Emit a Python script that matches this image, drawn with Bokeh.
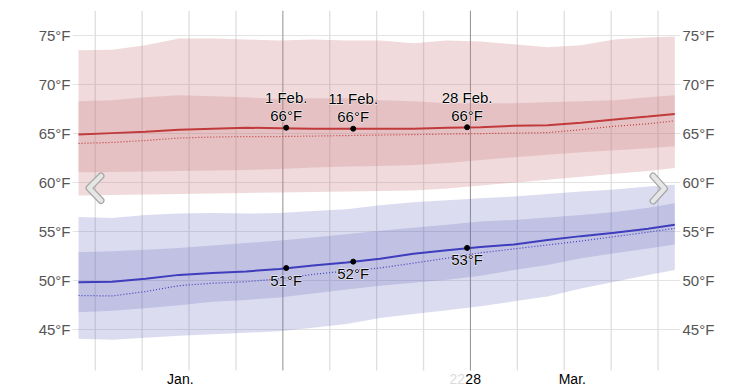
from bokeh.plotting import figure
from bokeh.models import Range1d, LinearAxis, FixedTicker
from bokeh.core.properties import value
from bokeh.embed import file_html
from bokeh.resources import INLINE

# ---- data (day index: 0 = 1 Jan) ----
days = [0, 5, 10, 15, 20, 25, 30, 35, 40, 45, 50, 55, 60, 65, 70, 75, 80, 85, 89]

hi_p90 = [73.5, 73.55, 74.0, 74.7, 74.7, 74.6, 74.5, 74.6, 74.5, 74.5, 74.2, 74.5, 74.4, 74.1, 73.8, 74.0, 74.6, 74.8, 74.9]
hi_p75 = [68.3, 68.4, 68.7, 68.9, 68.8, 68.7, 68.5, 68.6, 68.6, 68.4, 68.3, 68.1, 68.1, 68.1, 68.2, 68.3, 68.4, 68.7, 68.9]
hi_mean = [64.9, 65.05, 65.2, 65.4, 65.5, 65.6, 65.55, 65.5, 65.5, 65.5, 65.5, 65.6, 65.65, 65.8, 65.85, 66.1, 66.45, 66.75, 67.0]
hi_norm = [64.0, 64.1, 64.3, 64.55, 64.65, 64.7, 64.7, 64.75, 64.8, 64.85, 64.9, 64.95, 65.0, 65.05, 65.1, 65.4, 65.75, 66.0, 66.3]
hi_p25 = [61.05, 61.1, 61.15, 61.2, 61.25, 61.3, 61.4, 61.55, 61.65, 61.7, 61.8, 62.0, 62.3, 62.6, 62.85, 63.1, 63.3, 63.5, 63.7]
hi_p10 = [58.7, 58.75, 58.8, 58.85, 58.9, 58.95, 59.0, 59.05, 59.1, 59.15, 59.2, 59.4, 59.7, 60.0, 60.3, 60.6, 60.9, 61.2, 61.5]

lo_p90 = [56.5, 56.4, 56.7, 56.85, 56.9, 56.85, 56.9, 57.1, 57.3, 57.7, 58.0, 58.2, 58.4, 58.6, 58.85, 59.1, 59.3, 59.6, 59.8]
lo_p75 = [52.9, 53.0, 53.15, 53.35, 53.6, 53.85, 54.1, 54.4, 54.75, 55.1, 55.4, 55.7, 56.05, 56.2, 56.45, 56.7, 57.0, 57.45, 57.9]
lo_mean = [49.85, 49.9, 50.2, 50.6, 50.8, 50.95, 51.2, 51.55, 51.85, 52.25, 52.75, 53.1, 53.45, 53.7, 54.15, 54.55, 54.9, 55.3, 55.7]
lo_norm = [48.5, 48.45, 48.9, 49.5, 49.75, 49.9, 50.2, 50.65, 51.0, 51.3, 51.8, 52.3, 52.85, 53.25, 53.65, 54.05, 54.5, 54.95, 55.35]
lo_p25 = [46.8, 46.95, 47.2, 47.5, 47.85, 48.05, 48.3, 48.7, 49.1, 49.5, 49.8, 50.1, 50.5, 51.1, 51.6, 52.3, 52.8, 53.3, 53.7]
lo_p10 = [44.1, 44.0, 44.2, 44.4, 44.55, 44.7, 44.85, 45.2, 45.6, 46.2, 46.6, 47.0, 47.4, 47.9, 48.4, 49.2, 49.9, 50.6, 51.1]

mark_days = [31, 41, 58]
mark_dates = ["1 Feb.", "11 Feb.", "28 Feb."]
mark_hi = [65.6, 65.5, 65.65]
mark_hi_txt = ["66°F", "66°F", "66°F"]
mark_lo = [51.3, 51.95, 53.35]
mark_lo_txt = ["51°F", "52°F", "53°F"]

y_ticks = [45, 50, 55, 60, 65, 70, 75]
y_tick_labels = ["45°F", "50°F", "55°F", "60°F", "65°F", "70°F", "75°F"]

x_label_days = [15.2, 58.9, 73.7]
x_labels = ["Jan.", "28", "Mar."]

week_lines = [2.5, 9.5, 16.5, 23.5, 30.5, 37.5, 44.5, 51.5, 58.5, 65.5, 72.5, 79.5, 86.5]
dark_week_lines = [30.5, 58.5]

# ---- layout constants ----
X0, X1 = -0.896, 89.85
Y0, Y1 = 39.12, 77.55
GRID_BOTTOM = 40.85
FONT = "Liberation Sans"

p = figure(width=753, height=387, x_range=Range1d(X0, X1), y_range=Range1d(Y0, Y1),
           output_backend="svg", toolbar_location=None, x_axis_location=None,
           min_border_left=72, min_border_right=73, min_border_top=10, min_border_bottom=0)
p.outline_line_color = None
p.background_fill_color = "white"
p.border_fill_color = "white"
for g in p.xgrid:
    g.visible = False

ticker = FixedTicker(ticks=y_ticks)
overrides = {t: s for t, s in zip(y_ticks, y_tick_labels)}
p.ygrid.ticker = ticker
p.ygrid.grid_line_color = "#e3e3e3"
p.ygrid.grid_line_width = 1

right_axis = LinearAxis()
p.add_layout(right_axis, "right")
for ax in [p.yaxis[0], right_axis]:
    ax.ticker = ticker
    ax.major_label_overrides = overrides
    ax.axis_line_color = None
    ax.major_tick_line_color = None
    ax.minor_tick_line_color = None
    ax.major_tick_out = 0
    ax.major_tick_in = 0
    ax.major_label_standoff = 2
    ax.major_label_text_font = FONT
    ax.major_label_text_font_size = "15px"
    ax.major_label_text_color = "#555555"

# weekly vertical grid lines
light = [d for d in week_lines if d not in dark_week_lines]
p.segment(x0=light, x1=light, y0=[GRID_BOTTOM] * len(light), y1=[Y1] * len(light),
          line_color="#dedede", line_width=1.3)
p.segment(x0=dark_week_lines, x1=dark_week_lines, y0=[GRID_BOTTOM] * 2, y1=[Y1] * 2,
          line_color="#9a9a9a", line_width=1.1)

# bands
RED_BAND = "#c8787b"
BLUE_BAND = "#6464be"
p.varea(x=days, y1=hi_p10, y2=hi_p90, fill_color=RED_BAND, fill_alpha=0.27)
p.varea(x=days, y1=hi_p25, y2=hi_p75, fill_color=RED_BAND, fill_alpha=0.25)
p.varea(x=days, y1=lo_p10, y2=lo_p90, fill_color=BLUE_BAND, fill_alpha=0.226)
p.varea(x=days, y1=lo_p25, y2=lo_p75, fill_color=BLUE_BAND, fill_alpha=0.225)

# lines
RED = "#c03a3c"
BLUE = "#3d3dbd"
p.line(days, hi_norm, line_color=RED, line_width=1.2, line_dash="1 2")
p.line(days, lo_norm, line_color=BLUE, line_width=1.2, line_dash="1 2")
p.line(days, hi_mean, line_color=RED, line_width=2)
p.line(days, lo_mean, line_color=BLUE, line_width=2)

# chevrons (navigation decoration)
for cx, cy in [([3.36, 1.57, 3.36], [60.68, 59.45, 58.18]),
               ([85.75, 87.46, 85.75], [60.68, 59.40, 58.13])]:
    p.line(cx, cy, line_color="#a8a8a8", line_width=7, line_cap="round", line_join="round")
    p.line(cx, cy, line_color="#e6e6e6", line_width=4.5, line_cap="round", line_join="round")

# highlighted points
p.scatter(mark_days, mark_hi, size=5, color="black")
p.scatter(mark_days, mark_lo, size=5, color="black")

base = dict(text_align="center", text_baseline="middle", text_font=value(FONT),
            text_font_size="15px")
halo = dict(base, text_color="white", text_alpha=0.85, text_outline_color="white")
ink = dict(base, text_color="black")
for style in (halo, ink):
    p.text(x=mark_days, y=mark_hi, text=mark_dates, y_offset=-30, **style)
    p.text(x=mark_days, y=mark_hi, text=mark_hi_txt, y_offset=-12, **style)
    p.text(x=mark_days, y=mark_lo, text=mark_lo_txt, y_offset=12, **style)

# x labels
p.text(x=x_label_days, y=[Y0] * len(x_labels), text=x_labels, y_offset=-9,
       text_align="center", text_baseline="alphabetic", text_font=value(FONT),
       text_font_size="14px", text_color="black")
p.text(x=[x_label_days[1]], y=[Y0], text=["22"], x_offset=-8, y_offset=-9,
       text_align="right", text_baseline="alphabetic", text_font=value(FONT),
       text_font_size="14px", text_color="#dcdcdc")

open("out.html", "w").write(file_html(p, INLINE))
